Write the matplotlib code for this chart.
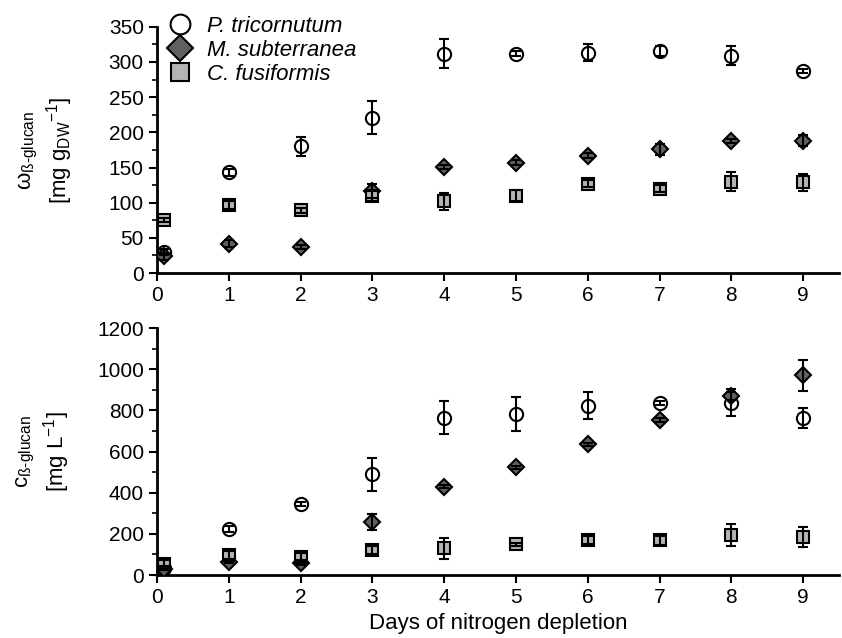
import matplotlib
matplotlib.use("Agg")
import matplotlib.pyplot as plt
from matplotlib.ticker import MultipleLocator

plt.rcParams['font.family'] = ['Liberation Sans', 'DejaVu Sans']
plt.rcParams['mathtext.fontset'] = 'custom'
plt.rcParams['mathtext.rm'] = 'Liberation Sans'
plt.rcParams['mathtext.it'] = 'Liberation Sans:italic'

# Days of nitrogen depletion
days = [0.1, 1, 2, 3, 4, 5, 6, 7, 8, 9]

# beta-glucan content [mg g_DW^-1]
w_pt = [30, 143, 180, 221, 312, 312, 313, 315, 309, 287]
w_pt_err = [4, 5, 14, 24, 21, 3, 12, 7, 13, 3]
w_ms = [24, 42, 37, 116, 151, 157, 167, 176, 188, 188]
w_ms_err = [5, 5, 3, 10, 3, 3, 3, 8, 3, 8]
w_cf = [75, 97, 89, 110, 102, 110, 127, 120, 130, 129]
w_cf_err = [3, 6, 4, 7, 12, 8, 5, 5, 13, 12]

# beta-glucan concentration [mg L^-1]
c_pt = [35, 222, 345, 489, 764, 782, 823, 834, 837, 764]
c_pt_err = [8, 15, 10, 80, 81, 82, 65, 10, 65, 47]
c_ms = [28, 65, 57, 259, 429, 523, 635, 753, 871, 970]
c_ms_err = [5, 8, 8, 40, 8, 8, 8, 10, 20, 75]
c_cf = [55, 97, 90, 121, 130, 150, 170, 170, 194, 186]
c_cf_err = [20, 20, 15, 20, 50, 8, 20, 22, 55, 48]

series_names = ['P. tricornutum', 'M. subterranea', 'C. fusiformis']

fig = plt.figure(figsize=(8.42, 6.38), dpi=100)
ax1 = fig.add_axes([0.1865, 0.572, 0.81, 0.386])
ax2 = fig.add_axes([0.1865, 0.0987, 0.81, 0.387])

styles = [
    dict(marker='o', mfc='white', ms=9.5),
    dict(marker='D', mfc='#606060', ms=8.5),
    dict(marker='s', mfc='#b4b4b4', ms=9),
]


def draw(ax, sets):
    handles = []
    for (vals, errs), st, name in zip(sets, styles, series_names):
        h, = ax.plot(days, vals, linestyle='none', marker=st['marker'],
                     mfc=st['mfc'], mec='black', mew=1.5, ms=st['ms'],
                     zorder=3, label=name)
        ax.errorbar(days, vals, yerr=errs, fmt='none', ecolor='black',
                    elinewidth=1.5, capsize=3.3, capthick=1.5, zorder=4)
        handles.append(h)
    ax.set_xlim(0, 9.5)
    ax.xaxis.set_major_locator(MultipleLocator(1))
    for s in ['top', 'right']:
        ax.spines[s].set_visible(False)
    for s in ['left', 'bottom']:
        ax.spines[s].set_linewidth(2)
    ax.tick_params(axis='both', which='major', direction='out', length=6,
                   width=1.5, labelsize=15)
    ax.tick_params(axis='y', which='minor', direction='out', length=3.5,
                   width=1.2)
    return handles


handles = draw(ax1, [(w_pt, w_pt_err), (w_ms, w_ms_err), (w_cf, w_cf_err)])
ax1.set_ylim(0, 350)
ax1.yaxis.set_major_locator(MultipleLocator(50))
ax1.yaxis.set_minor_locator(MultipleLocator(25))
ax1.set_ylabel('ω$_{\\mathrm{ß\\text{-}glucan}}$\n[mg g$_{\\mathrm{DW}}$$^{\\mathrm{-1}}$]',
               fontsize=16, labelpad=24, linespacing=1.2)

draw(ax2, [(c_pt, c_pt_err), (c_ms, c_ms_err), (c_cf, c_cf_err)])
ax2.set_ylim(0, 1200)
ax2.yaxis.set_major_locator(MultipleLocator(200))
ax2.yaxis.set_minor_locator(MultipleLocator(100))
ax2.set_ylabel('c$_{\\mathrm{ß\\text{-}glucan}}$\n[mg L$^{\\mathrm{-1}}$]',
               fontsize=16, labelpad=18, linespacing=1.2)
ax2.set_xlabel('Days of nitrogen depletion', fontsize=16)

leg = ax1.legend(handles=handles, loc='upper left',
                 bbox_to_anchor=(0.18, 1.0), bbox_transform=fig.transFigure,
                 frameon=False, fontsize=16, handletextpad=0.6,
                 labelspacing=0.15, borderaxespad=0.3, markerscale=1.5,
                 handlelength=1.2)
for t in leg.get_texts():
    t.set_fontstyle('italic')

fig.savefig('out.png', dpi=100)
